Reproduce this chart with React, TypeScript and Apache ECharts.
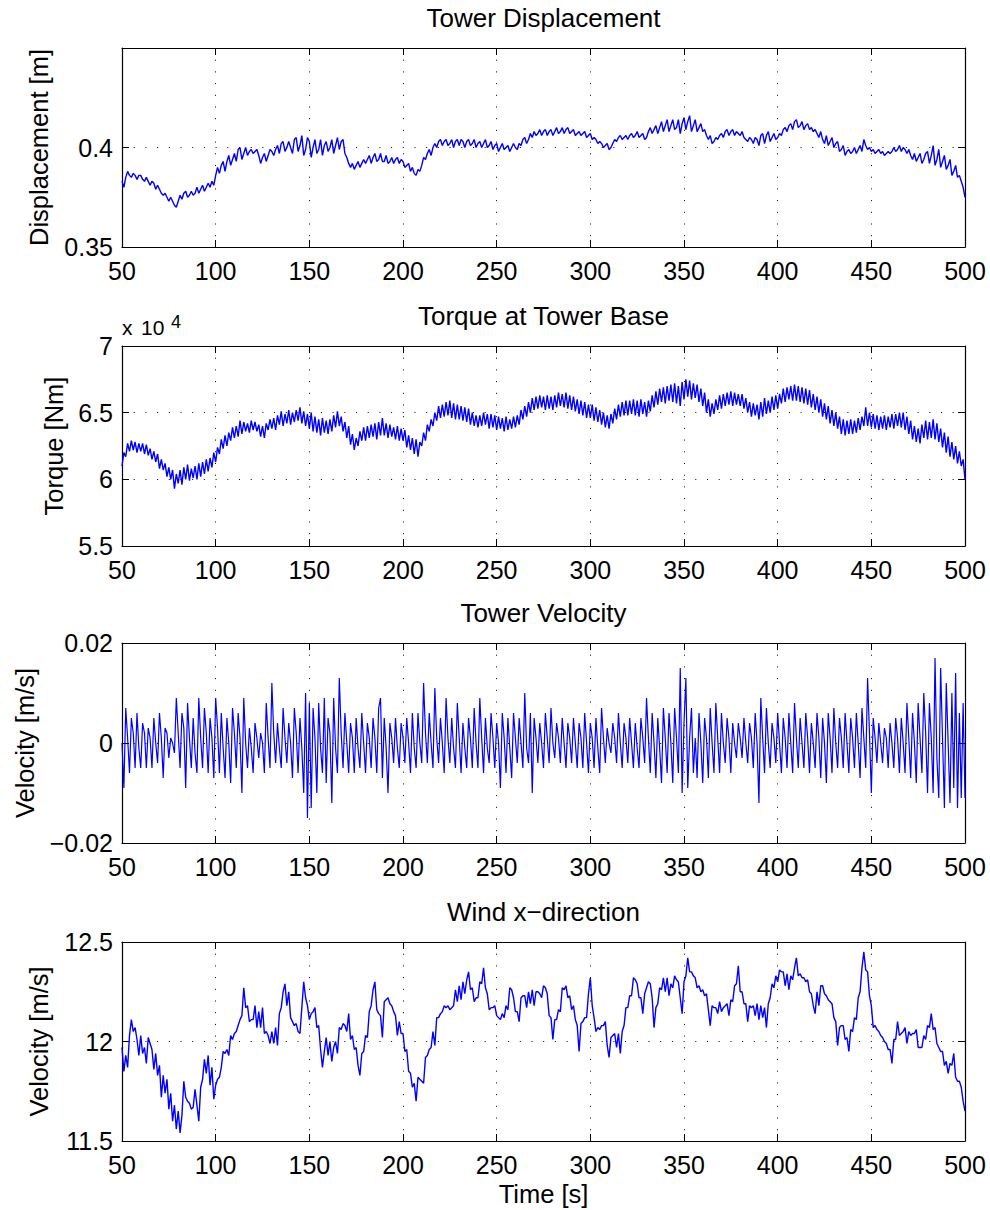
import React, { useEffect, useRef } from "react";
import * as echarts from "echarts";

// Sampling grid of all four records (seconds)
const T_START = 50;
const T_STEP = 1;

// Tower displacement, read in millimetres (t = 50..500 s, 1 s apart)
const displacementMm = [
  383, 380, 385, 388, 386, 385, 387, 386, 384, 386,
  386, 384, 383, 385, 383, 381, 383, 382, 379, 381,
  379, 377, 376, 377, 375, 373, 375, 373, 371, 370,
  373, 376, 374, 377, 378, 375, 376, 378, 376, 377,
  380, 377, 379, 381, 378, 380, 382, 380, 383, 381,
  386, 390, 387, 391, 393, 388, 393, 396, 391, 394,
  397, 393, 399, 400, 394, 397, 400, 396, 398, 399,
  397, 398, 399, 396, 392, 395, 397, 393, 396, 399,
  398, 396, 399, 401, 397, 402, 403, 398, 400, 403,
  400, 397, 404, 405, 398, 401, 406, 396, 399, 405,
  403, 395, 400, 404, 397, 399, 404, 396, 401, 403,
  398, 400, 404, 397, 401, 405, 399, 403, 404, 397,
  395, 392, 390, 392, 389, 391, 393, 390, 392, 394,
  392, 394, 396, 392, 395, 397, 393, 394, 397, 393,
  393, 396, 392, 393, 395, 392, 394, 395, 392, 394,
  393, 390, 391, 392, 388, 390, 387, 386, 389, 388,
  391, 395, 394, 397, 399, 396, 400, 402, 400, 403,
  404, 401, 403, 404, 401, 402, 404, 400, 403, 404,
  401, 404, 403, 400, 403, 404, 401, 402, 404, 400,
  402, 403, 400, 402, 404, 400, 401, 403, 399, 401,
  402, 398, 400, 402, 399, 400, 401, 398, 400, 402,
  400, 399, 402, 401, 404, 405, 402, 404, 407, 405,
  408, 406, 407, 409, 406, 408, 409, 406, 408, 409,
  406, 408, 410, 407, 408, 410, 407, 409, 410, 407,
  408, 409, 406, 407, 408, 406, 407, 408, 405, 406,
  407, 404, 405, 404, 402, 403, 402, 400, 401, 402,
  399, 400, 402, 404, 403, 405, 406, 404, 405, 406,
  404, 406, 407, 405, 406, 408, 405, 406, 407, 404,
  405, 408, 410, 407, 409, 411, 407, 410, 413, 408,
  411, 414, 408, 411, 414, 409, 410, 414, 407, 412,
  415, 409, 413, 416, 408, 411, 414, 408, 410, 412,
  408, 409, 406, 404, 406, 402, 403, 405, 404, 406,
  407, 405, 408, 409, 406, 408, 409, 406, 408, 407,
  406, 408, 405, 404, 403, 405, 404, 402, 405, 404,
  401, 406, 407, 402, 406, 408, 403, 405, 407, 404,
  405, 407, 406, 409, 410, 408, 411, 412, 409, 413,
  414, 410, 411, 413, 409, 411, 412, 409, 410, 408,
  409, 407, 405, 408, 404, 402, 406, 401, 403, 405,
  400, 402, 403, 398, 399, 401, 396, 398, 399, 397,
  398, 400, 397, 399, 401, 398, 404, 401, 399, 400,
  398, 399, 397, 398, 399, 397, 398, 396, 397, 398,
  397, 398, 400, 398, 399, 401, 398, 400, 399, 397,
  399, 396, 394, 397, 393, 395, 397, 392, 394, 397,
  398, 392, 396, 401, 391, 394, 399, 390, 393, 396,
  389, 391, 394, 386, 388, 391, 385, 386, 383, 380, 375,
];

// Torque at tower base, in units of 10^4 Nm
const torque1e4 = [
  6.10, 6.20, 6.17, 6.27, 6.21, 6.29, 6.22, 6.28, 6.20, 6.27,
  6.21, 6.27, 6.19, 6.26, 6.18, 6.23, 6.15, 6.21, 6.13, 6.19,
  6.08, 6.15, 6.07, 6.12, 6.02, 6.09, 6.00, 6.07, 5.93, 6.04,
  5.97, 6.07, 5.96, 6.09, 6.00, 6.11, 5.99, 6.08, 6.01, 6.10,
  6.00, 6.12, 6.02, 6.13, 6.04, 6.15, 6.06, 6.16, 6.09, 6.20,
  6.13, 6.24, 6.19, 6.30, 6.23, 6.33, 6.25, 6.35, 6.29, 6.39,
  6.31, 6.40, 6.32, 6.44, 6.34, 6.43, 6.36, 6.42, 6.35, 6.44,
  6.37, 6.43, 6.36, 6.41, 6.32, 6.40, 6.31, 6.42, 6.37, 6.45,
  6.38, 6.46, 6.37, 6.48, 6.41, 6.51, 6.40, 6.49, 6.42, 6.52,
  6.41, 6.50, 6.43, 6.52, 6.44, 6.54, 6.42, 6.51, 6.40, 6.49,
  6.38, 6.50, 6.36, 6.47, 6.35, 6.45, 6.33, 6.46, 6.35, 6.44,
  6.34, 6.45, 6.36, 6.48, 6.39, 6.51, 6.40, 6.47, 6.36, 6.43,
  6.31, 6.40, 6.26, 6.34, 6.22, 6.31, 6.25, 6.36, 6.29, 6.39,
  6.29, 6.40, 6.31, 6.41, 6.32, 6.42, 6.30, 6.43, 6.33, 6.46,
  6.33, 6.42, 6.31, 6.41, 6.32, 6.39, 6.30, 6.40, 6.29, 6.38,
  6.29, 6.37, 6.24, 6.33, 6.22, 6.31, 6.19, 6.30, 6.17, 6.28,
  6.25, 6.35, 6.29, 6.41, 6.36, 6.45, 6.40, 6.50, 6.44, 6.55,
  6.46, 6.56, 6.47, 6.58, 6.48, 6.59, 6.46, 6.57, 6.45, 6.56,
  6.45, 6.55, 6.44, 6.54, 6.43, 6.53, 6.41, 6.50, 6.40, 6.48,
  6.39, 6.48, 6.40, 6.50, 6.41, 6.49, 6.38, 6.49, 6.39, 6.48,
  6.37, 6.47, 6.38, 6.46, 6.36, 6.47, 6.37, 6.45, 6.38, 6.47,
  6.39, 6.48, 6.41, 6.52, 6.45, 6.55, 6.47, 6.58, 6.50, 6.61,
  6.52, 6.62, 6.53, 6.63, 6.54, 6.62, 6.52, 6.63, 6.53, 6.62,
  6.52, 6.63, 6.54, 6.65, 6.55, 6.64, 6.54, 6.65, 6.53, 6.63,
  6.52, 6.62, 6.51, 6.60, 6.49, 6.59, 6.48, 6.58, 6.46, 6.56,
  6.46, 6.56, 6.44, 6.54, 6.43, 6.52, 6.41, 6.50, 6.39, 6.48,
  6.38, 6.49, 6.42, 6.53, 6.45, 6.56, 6.47, 6.58, 6.48, 6.59,
  6.48, 6.59, 6.49, 6.60, 6.48, 6.59, 6.47, 6.60, 6.49, 6.58,
  6.47, 6.59, 6.51, 6.63, 6.54, 6.66, 6.56, 6.68, 6.58, 6.69,
  6.57, 6.70, 6.59, 6.71, 6.58, 6.72, 6.57, 6.70, 6.55, 6.73,
  6.60, 6.75, 6.62, 6.74, 6.60, 6.72, 6.61, 6.71, 6.58, 6.68,
  6.55, 6.65, 6.50, 6.60, 6.47, 6.57, 6.49, 6.60, 6.52, 6.63,
  6.53, 6.64, 6.55, 6.65, 6.56, 6.66, 6.55, 6.65, 6.56, 6.64,
  6.55, 6.64, 6.53, 6.61, 6.50, 6.58, 6.47, 6.57, 6.48, 6.56,
  6.45, 6.58, 6.47, 6.61, 6.49, 6.59, 6.50, 6.62, 6.52, 6.63,
  6.53, 6.64, 6.57, 6.68, 6.58, 6.69, 6.60, 6.70, 6.59, 6.71,
  6.59, 6.70, 6.58, 6.69, 6.57, 6.68, 6.56, 6.67, 6.54, 6.64,
  6.52, 6.62, 6.50, 6.60, 6.47, 6.57, 6.45, 6.55, 6.42, 6.52,
  6.40, 6.50, 6.38, 6.47, 6.34, 6.45, 6.33, 6.44, 6.34, 6.45,
  6.34, 6.44, 6.35, 6.46, 6.37, 6.47, 6.40, 6.54, 6.40, 6.50,
  6.39, 6.49, 6.38, 6.48, 6.37, 6.47, 6.38, 6.48, 6.37, 6.47,
  6.39, 6.49, 6.38, 6.49, 6.40, 6.50, 6.39, 6.50, 6.37, 6.47,
  6.34, 6.44, 6.30, 6.40, 6.28, 6.38, 6.27, 6.41, 6.31, 6.44,
  6.30, 6.43, 6.31, 6.45, 6.30, 6.42, 6.28, 6.38, 6.24, 6.35,
  6.20, 6.32, 6.17, 6.28, 6.15, 6.25, 6.12, 6.21, 6.10, 6.15, 6.00,
];

// Tower velocity, read in mm/s
const velocityMmS = [
  0, -9, 7, 1, -6, 5, 2, -5, 6, -1,
  -5, 4, 2, -5, 3, 1, -5, 5, 0, -4,
  6, 1, -7, 3, 2, -3, 1, 0, -2, 9,
  2, -5, 6, 3, -9, 8, 1, -5, 5, -2,
  -6, 9, 1, -5, 7, 2, -6, 5, 1, -7,
  9, 3, -6, 6, -1, -7, 5, 0, -8, 7,
  2, -5, 6, 1, -10, 9, 0, -5, 3, -1,
  -6, 4, 1, -3, 2, 0, -6, 8, 1, -5,
  12, 2, -4, 4, -1, -5, 7, 1, -4, 4,
  0, -7, 7, 2, -6, 5, -1, -10, 10, -15,
  8, -13, 7, 1, -10, 8, -1, -6, 9, -8,
  5, 2, -12, 9, -1, -6, 13, 2, -5, 6,
  0, -6, 4, 1, -6, 5, -1, -5, 6, 0,
  -6, 4, 1, -5, 5, 1, -6, 7, 9, -7,
  5, -1, -10, 4, 1, -4, 5, -1, -5, 4,
  1, -4, 5, 0, -6, 6, -1, -5, 6, 0,
  -4, 12, 2, -4, 6, 0, -5, 11, 1, -4,
  5, 0, -6, 9, 1, -4, 5, -1, -5, 8,
  1, -6, 4, -1, -5, 5, 1, -5, 7, 0,
  -5, 9, 1, -6, 5, -1, -4, 6, 1, -5,
  4, 0, -9, 6, 1, -6, 5, -1, -7, 6,
  1, -4, 5, 0, -5, 10, -1, -4, 6, -10,
  5, 1, -4, 4, 0, -5, 6, 1, -4, 7,
  0, -3, 4, 1, -4, 5, 0, -5, 4, 1,
  -4, 5, 0, -5, 4, 1, -5, 6, 0, -6,
  4, 1, -5, 5, -1, -6, 7, 1, -4, 3,
  0, -2, 4, 1, -4, 6, 0, -5, 4, 1,
  -4, 5, 0, -5, 4, -1, -5, 5, 1, -4,
  9, 1, -6, 6, 0, -7, 5, -1, -8, 7,
  1, -6, 6, 0, -8, 7, 1, -6, 15, -10,
  4, 13, -9, 1, 7, -6, 1, -7, 6, 0,
  -8, 5, 1, -7, 7, 0, -6, 8, 1, -6,
  6, 0, -4, 5, 1, -6, 4, 0, -3, 4,
  1, -3, 5, 0, -4, 4, 1, -5, 6, 0,
  -12, 9, 1, -6, 7, 0, -5, 4, 1, -4,
  6, 0, -6, 5, 1, -5, 6, 0, -6, 8,
  1, -5, 5, 0, -5, 6, 1, -6, 4, 0,
  -5, 6, 1, -7, 5, 0, -8, 6, 1, -6,
  7, 0, -5, 5, 1, -5, 6, 0, -6, 5,
  1, -5, 6, 0, -7, 7, 1, -5, 13, 2,
  -10, 5, 1, -4, 4, 0, -4, 3, 1, -5,
  4, 0, -5, 5, 1, -6, 5, 0, -6, 8,
  1, -7, 6, 0, -8, 8, 1, -6, 10, 2,
  -10, 8, 1, -10, 17, -3, -11, 15, 1, -13,
  12, 0, -12, 10, -9, 14, -13, 6, -11, 8, -11,
];

// Wind speed in x-direction, m/s
const windSpeed = [
  11.97, 11.85, 11.93, 11.87, 12.03, 12.11, 12.05, 12.07, 12.01, 11.93,
  12.03, 11.94, 11.97, 11.89, 12.02, 11.99, 11.96, 11.86, 11.94, 11.83,
  11.88, 11.72, 11.83, 11.74, 11.81, 11.66, 11.74, 11.60, 11.68, 11.56,
  11.65, 11.54, 11.63, 11.80, 11.72, 11.70, 11.69, 11.66, 11.67, 11.76,
  11.68, 11.60, 11.77, 11.81, 11.91, 11.84, 11.93, 11.78, 11.87, 11.71,
  11.78, 11.81, 11.82, 11.87, 11.95, 11.94, 11.96, 11.93, 12.03, 12.01,
  12.04, 12.05, 12.08, 12.11, 12.13, 12.27, 12.17, 12.18, 12.10, 12.11,
  12.11, 12.18, 12.07, 12.15, 12.07, 12.17, 12.04, 12.05, 12.03, 11.99,
  12.05, 11.99, 12.07, 11.98, 12.14, 12.17, 12.25, 12.29, 12.18, 12.25,
  12.12, 12.10, 12.08, 12.09, 12.05, 12.04, 12.17, 12.30, 12.22, 12.18,
  12.11, 12.14, 12.15, 12.17, 12.07, 12.08, 11.96, 11.87, 11.95, 12.02,
  11.93, 12.00, 11.90, 11.97, 12.00, 11.94, 12.07, 12.06, 12.09, 12.08,
  12.05, 12.14, 12.01, 12.03, 11.96, 11.97, 11.88, 11.83, 11.94, 11.95,
  12.03, 12.02, 12.15, 12.18, 12.26, 12.30, 12.16, 12.14, 12.13, 12.02,
  12.20, 12.21, 12.22, 12.19, 12.18, 12.15, 12.13, 12.03, 12.10, 12.04,
  12.04, 11.95, 11.96, 11.85, 11.84, 11.77, 11.79, 11.70, 11.82, 11.81,
  11.80, 11.79, 11.92, 11.93, 11.96, 11.97, 12.05, 11.98, 12.12, 12.12,
  12.14, 12.15, 12.18, 12.17, 12.18, 12.16, 12.17, 12.18, 12.26, 12.20,
  12.28, 12.21, 12.30, 12.24, 12.31, 12.35, 12.26, 12.27, 12.20, 12.22,
  12.22, 12.30, 12.29, 12.37, 12.27, 12.24, 12.16, 12.17, 12.17, 12.18,
  12.13, 12.12, 12.11, 12.14, 12.12, 12.18, 12.16, 12.27, 12.26, 12.22,
  12.15, 12.15, 12.10, 12.22, 12.23, 12.23, 12.17, 12.25, 12.19, 12.26,
  12.18, 12.25, 12.25, 12.24, 12.22, 12.28, 12.27, 12.24, 12.13, 12.12,
  12.01, 12.11, 12.11, 12.16, 12.15, 12.27, 12.26, 12.28, 12.22, 12.23,
  12.16, 12.18, 12.11, 12.08, 11.95, 12.09, 12.10, 12.12, 12.12, 12.24,
  12.32, 12.18, 12.12, 12.05, 12.07, 12.06, 12.08, 12.08, 12.10, 11.98,
  11.92, 12.02, 12.03, 12.04, 11.97, 12.04, 11.94, 12.05, 12.08, 12.17,
  12.17, 12.23, 12.23, 12.32, 12.31, 12.29, 12.22, 12.22, 12.14, 12.24,
  12.27, 12.30, 12.29, 12.22, 12.07, 12.17, 12.19, 12.27, 12.26, 12.32,
  12.25, 12.32, 12.23, 12.29, 12.27, 12.33, 12.31, 12.30, 12.22, 12.14,
  12.30, 12.33, 12.42, 12.35, 12.35, 12.33, 12.32, 12.27, 12.28, 12.25,
  12.26, 12.23, 12.24, 12.16, 12.08, 12.18, 12.17, 12.17, 12.14, 12.20,
  12.15, 12.17, 12.18, 12.19, 12.13, 12.21, 12.20, 12.28, 12.29, 12.38,
  12.25, 12.25, 12.19, 12.19, 12.10, 12.18, 12.17, 12.18, 12.13, 12.19,
  12.11, 12.18, 12.12, 12.17, 12.07, 12.19, 12.22, 12.29, 12.27, 12.33,
  12.30, 12.36, 12.35, 12.35, 12.28, 12.34, 12.26, 12.33, 12.31, 12.37,
  12.42, 12.33, 12.34, 12.32, 12.32, 12.30, 12.31, 12.25, 12.24, 12.18,
  12.14, 12.25, 12.18, 12.28, 12.28, 12.24, 12.23, 12.21, 12.20, 12.19,
  12.12, 12.10, 11.98, 12.07, 12.08, 12.08, 12.01, 12.02, 11.95, 12.06,
  12.05, 12.12, 12.11, 12.22, 12.25, 12.37, 12.45, 12.36, 12.35, 12.23,
  12.18, 12.07, 12.08, 12.06, 12.05, 12.03, 12.02, 12.00, 11.99, 11.96,
  11.96, 11.89, 12.01, 12.01, 12.10, 12.03, 12.04, 12.05, 12.07, 11.99,
  12.05, 12.03, 12.04, 12.04, 12.06, 11.97, 11.97, 11.97, 12.03, 12.01,
  12.08, 12.07, 12.14, 12.06, 12.07, 11.99, 11.97, 11.95, 11.95, 11.88,
  11.90, 11.84, 11.89, 11.88, 11.94, 11.82, 11.80, 11.80, 11.77, 11.70, 11.65,
];

const FONT = '"Liberation Sans", Arial, Helvetica, sans-serif';
const TICK_FS = 25;
const TITLE_FS = 26;
const NAME_FS = 25.5;
const PLOT_LEFT = 122;
const PLOT_WIDTH = 843;

const toPairs = (vals: number[]) => vals.map((v, i) => [T_START + i * T_STEP, v]);
const fmt = (v: number) => String(Number(v.toFixed(4))).replace("-", "\u2212");

const panels = [
  {
    title: "Tower Displacement",
    yName: "Displacement [m]",
    min: 0.35, max: 0.45, interval: 0.05, hideTop: true,
    data: toPairs(displacementMm.map((v) => v / 1000)),
    top: 48, height: 199, nameGap: 70, lineWidth: 1.4,
  },
  {
    title: "Torque at Tower Base",
    yName: "Torque [Nm]",
    min: 5.5, max: 7, interval: 0.5, hideTop: false,
    data: toPairs(torque1e4),
    top: 346, height: 200, nameGap: 55, lineWidth: 1.4,
  },
  {
    title: "Tower Velocity",
    yName: "Velocity [m/s]",
    min: -0.02, max: 0.02, interval: 0.02, hideTop: false,
    data: toPairs(velocityMmS.map((v) => v / 1000)),
    top: 643, height: 200, nameGap: 84, lineWidth: 1.2,
  },
  {
    title: "Wind x\u2212direction",
    yName: "Velocity [m/s]",
    min: 11.5, max: 12.5, interval: 0.5, hideTop: false,
    data: toPairs(windSpeed),
    top: 942, height: 199, nameGap: 70, lineWidth: 1.4,
  },
];

export default function App() {
  const ref = useRef<HTMLDivElement>(null);
  useEffect(() => {
    document.body.style.margin = "0";
    if (!ref.current) return;
    const chart = echarts.init(ref.current, undefined, { renderer: "svg" });
    const black = "#000";
    const frame = { show: true, onZero: false, lineStyle: { color: black, width: 1.2 } };
    const ticks = { show: true, inside: true, length: 7, lineStyle: { color: black } };
    const dotted = { show: true, lineStyle: { color: black, width: 1, type: [1, 10.7] } };
    const grids: any[] = [];
    const xAxes: any[] = [];
    const yAxes: any[] = [];
    const series: any[] = [];
    const graphics: any[] = [];
    panels.forEach((p, i) => {
      grids.push({ left: PLOT_LEFT, width: PLOT_WIDTH, top: p.top, height: p.height, containLabel: false });
      const isLast = i === panels.length - 1;
      xAxes.push({
        type: "value", gridIndex: i, position: "bottom", min: 50, max: 500, interval: 50,
        axisLine: frame, axisTick: ticks,
        axisLabel: { show: true, color: black, fontSize: TICK_FS, fontFamily: FONT, margin: 11, formatter: (v: number) => String(v) },
        splitLine: dotted,
        name: isLast ? "Time [s]" : "",
        nameLocation: "middle", nameGap: 40,
        nameTextStyle: { color: black, fontSize: NAME_FS, fontFamily: FONT },
      });
      xAxes.push({
        type: "value", gridIndex: i, position: "top", min: 50, max: 500, interval: 50,
        axisLine: frame, axisTick: ticks,
        axisLabel: { show: false }, splitLine: { show: false },
      });
      yAxes.push({
        type: "value", gridIndex: i, position: "left", min: p.min, max: p.max, interval: p.interval,
        axisLine: frame, axisTick: ticks,
        axisLabel: {
          show: true, color: black, fontSize: TICK_FS, fontFamily: FONT, margin: 9,
          formatter: (v: number) => (p.hideTop && Math.abs(v - p.max) < 1e-9 ? "" : fmt(v)),
        },
        splitLine: dotted,
        name: p.yName, nameLocation: "middle", nameGap: p.nameGap, nameRotate: 90,
        nameTextStyle: { color: black, fontSize: NAME_FS, fontFamily: FONT },
      });
      yAxes.push({
        type: "value", gridIndex: i, position: "right", min: p.min, max: p.max, interval: p.interval,
        axisLine: frame, axisTick: ticks,
        axisLabel: { show: false }, splitLine: { show: false },
      });
      series.push({
        type: "line", xAxisIndex: 2 * i, yAxisIndex: 2 * i, data: p.data,
        showSymbol: false, symbol: "none",
        lineStyle: { color: "#0000ff", width: p.lineWidth },
        itemStyle: { color: "#0000ff" },
      });
      graphics.push({
        type: "text", x: PLOT_LEFT + PLOT_WIDTH / 2, y: p.top - 30,
        style: { text: p.title, font: `${TITLE_FS}px ${FONT}`, fill: black, textAlign: "center", textVerticalAlign: "middle" },
      });
    });
    graphics.push({
      type: "text", x: 122, y: 327,
      style: { text: "x", font: `21px ${FONT}`, fill: black, textAlign: "left", textVerticalAlign: "middle" },
    });
    graphics.push({
      type: "text", x: 141, y: 327,
      style: { text: "10", font: `21px ${FONT}`, fill: black, textAlign: "left", textVerticalAlign: "middle" },
    });
    graphics.push({
      type: "text", x: 171, y: 321.5,
      style: { text: "4", font: `18px ${FONT}`, fill: black, textAlign: "left", textVerticalAlign: "middle" },
    });
    chart.setOption({
      animation: false,
      backgroundColor: "#fff",
      textStyle: { fontFamily: FONT },
      grid: grids,
      xAxis: xAxes,
      yAxis: yAxes,
      series,
      graphic: graphics,
    });
    return () => chart.dispose();
  }, []);
  return <div ref={ref} style={{ width: 990, height: 1210 }} />;
}
